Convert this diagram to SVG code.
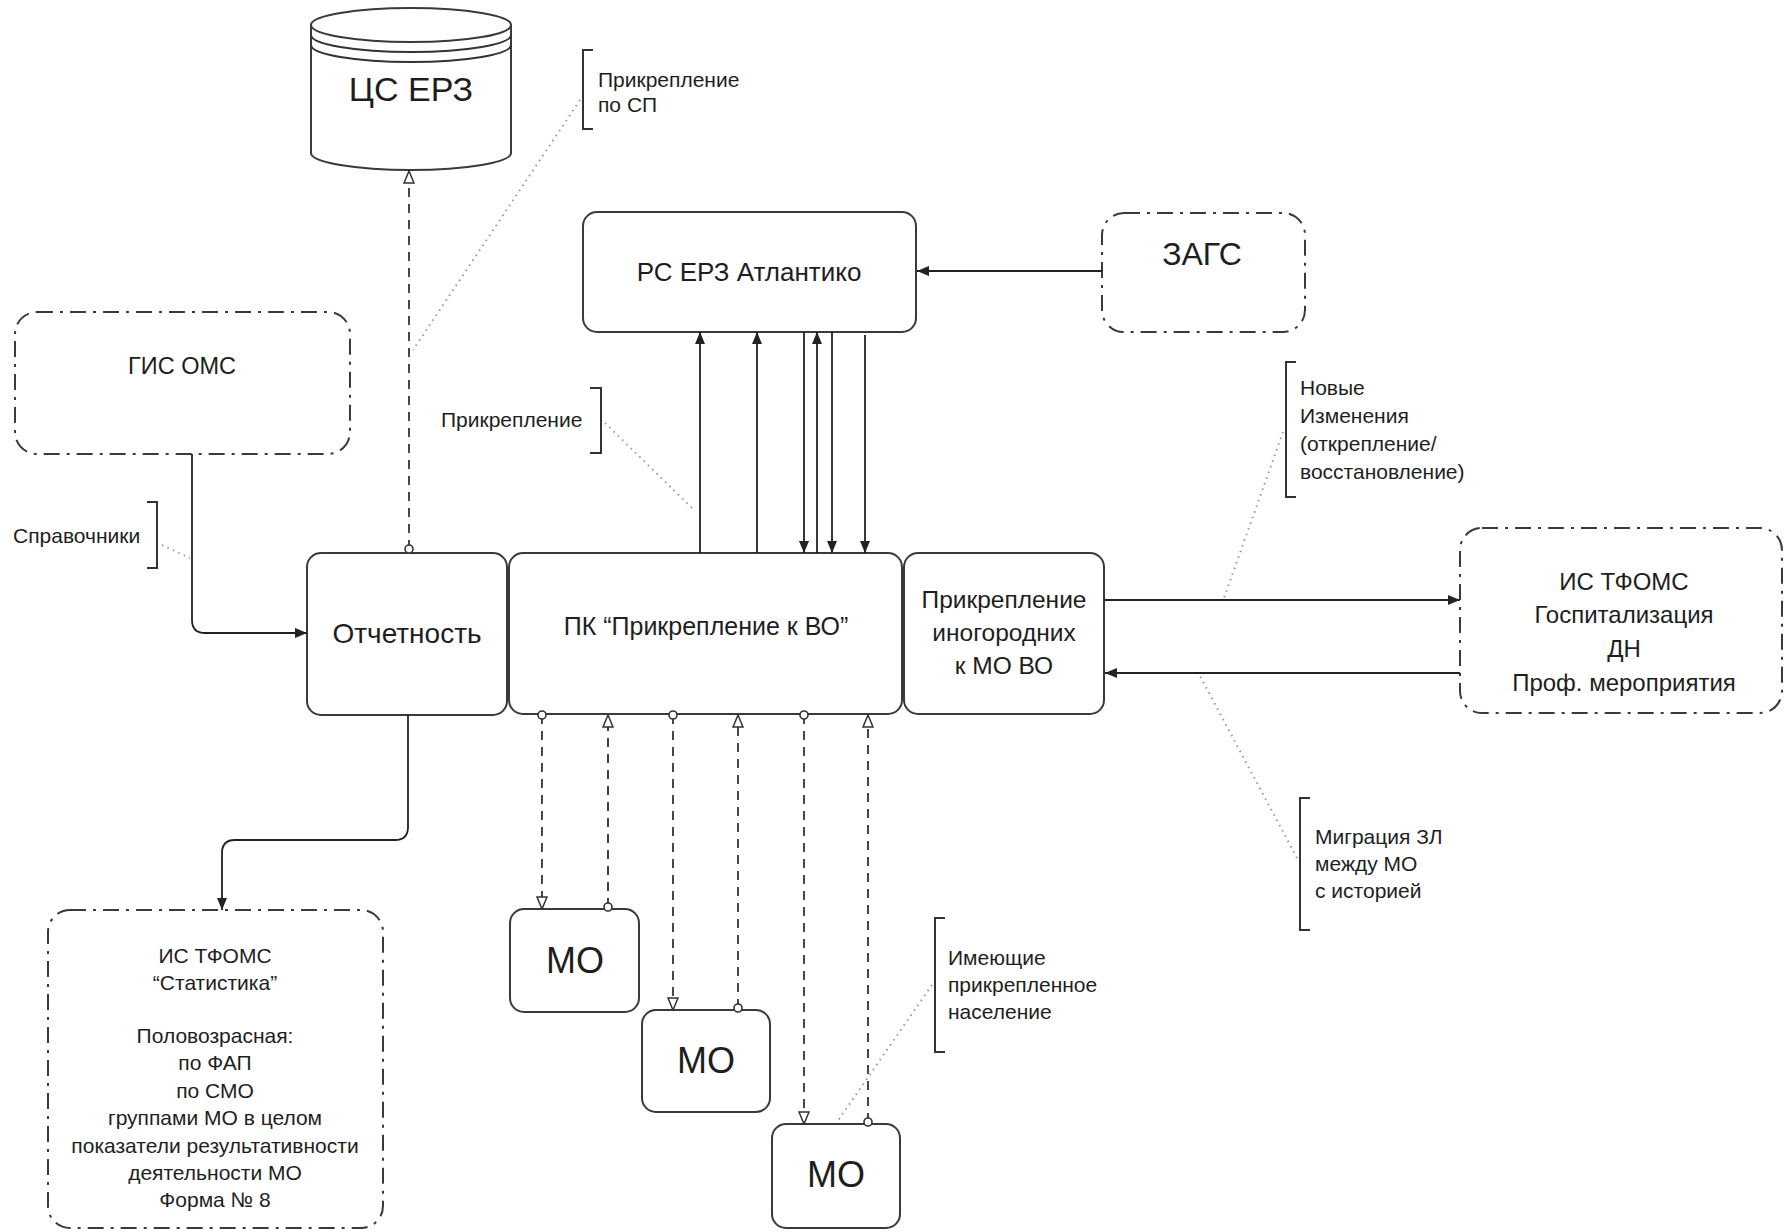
<svg xmlns="http://www.w3.org/2000/svg" width="1785" height="1232" viewBox="0 0 1785 1232">
<style>
text{font-family:"Liberation Sans",Arial,sans-serif;fill:#1e1e1e}
.c{text-anchor:middle}
.box{fill:#fff;stroke:#3a3a3a;stroke-width:2}
.ext{fill:#fff;stroke:#3a3a3a;stroke-width:2;stroke-dasharray:16 7 3 7}
.ln{fill:none;stroke:#222;stroke-width:1.8}
.dash{fill:none;stroke:#333;stroke-width:1.8;stroke-dasharray:9 7}
.dot{fill:none;stroke:#9a9a9a;stroke-width:2;stroke-dasharray:1.5 4.5}
.br{fill:none;stroke:#333;stroke-width:2}
.lbl{font-size:21px}
</style>
<defs>
<marker id="af" viewBox="0 0 12 10" refX="12" refY="5" markerWidth="12" markerHeight="10" markerUnits="userSpaceOnUse" orient="auto"><path d="M0,0 L12,5 L0,10 z" fill="#222"/></marker>
<marker id="th" viewBox="0 0 14 12" refX="13" refY="6" markerWidth="14" markerHeight="12" markerUnits="userSpaceOnUse" orient="auto"><path d="M1,1 L13,6 L1,11 z" fill="#fff" stroke="#333" stroke-width="1.5" stroke-dasharray="none"/></marker>
<marker id="ci" viewBox="0 0 12 12" refX="6" refY="6" markerWidth="12" markerHeight="12" markerUnits="userSpaceOnUse" orient="auto"><circle cx="6" cy="6" r="4" fill="#fff" stroke="#333" stroke-width="1.6" stroke-dasharray="none"/></marker>
</defs>
<rect width="1785" height="1232" fill="#fff"/>

<g id="leaders">
<path class="dot" d="M580,100 L413,350"/>
<path class="dot" d="M162,545 L190,558"/>
<path class="dot" d="M605,423 L694,510"/>
<path class="dot" d="M1283,432 L1224,598"/>
<path class="dot" d="M1297,858 L1200,676"/>
<path class="dot" d="M932,985 L837,1122"/>
</g>

<g id="cs-erz">
<path class="box" d="M311,25 V153 A100,17 0 0 0 511,153 V25"/>
<ellipse class="box" cx="411" cy="25" rx="100" ry="17"/>
<path class="br" d="M311,35 A100,17 0 0 0 511,35"/>
<path class="br" d="M311,45 A100,17 0 0 0 511,45"/>
<text class="c" x="411" y="101" font-size="34">ЦС ЕРЗ</text>
</g>

<g id="gis-oms">
<rect class="ext" x="15" y="312" width="335" height="142" rx="22"/>
<text class="c" x="182" y="374" font-size="23.5">ГИС ОМС</text>
</g>

<g id="otchetnost">
<rect class="box" x="307" y="553" width="200" height="162" rx="14"/>
<text class="c" x="407" y="643" font-size="28">Отчетность</text>
</g>

<g id="pk">
<rect class="box" x="509" y="553" width="393" height="161" rx="14"/>
<text class="c" x="706" y="635" font-size="25">ПК “Прикрепление к ВО”</text>
</g>

<g id="inogorodnie">
<rect class="box" x="904" y="553" width="200" height="161" rx="14"/>
<text class="c" x="1004" y="608" font-size="24.5">Прикрепление</text>
<text class="c" x="1004" y="641" font-size="24.5">иногородних</text>
<text class="c" x="1004" y="674" font-size="24.5">к МО ВО</text>
</g>

<g id="rs-erz">
<rect class="box" x="583" y="212" width="333" height="120" rx="14"/>
<text class="c" x="749" y="281" font-size="26">РС ЕРЗ Атлантико</text>
</g>

<g id="zags">
<rect class="ext" x="1102" y="213" width="203" height="119" rx="22"/>
<text class="c" x="1202" y="265" font-size="32">ЗАГС</text>
</g>

<g id="is-tfoms-gosp">
<rect class="ext" x="1460" y="528" width="322" height="185" rx="22"/>
<text class="c" x="1624" y="590" font-size="24">ИС ТФОМС</text>
<text class="c" x="1624" y="623" font-size="24">Госпитализация</text>
<text class="c" x="1624" y="657" font-size="24">ДН</text>
<text class="c" x="1624" y="691" font-size="24">Проф. мероприятия</text>
</g>

<g id="is-tfoms-stat">
<rect class="ext" x="48" y="910" width="335" height="318" rx="22"/>
<text class="c lbl" x="215" y="963">ИС ТФОМС</text>
<text class="c lbl" x="215" y="990">“Статистика”</text>
<text class="c lbl" x="215" y="1043">Половозрасная:</text>
<text class="c lbl" x="215" y="1070">по ФАП</text>
<text class="c lbl" x="215" y="1098">по СМО</text>
<text class="c lbl" x="215" y="1125">группами МО в целом</text>
<text class="c lbl" x="215" y="1153">показатели результативности</text>
<text class="c lbl" x="215" y="1180">деятельности МО</text>
<text class="c lbl" x="215" y="1207">Форма № 8</text>
</g>

<g id="mo1">
<rect class="box" x="510" y="909" width="129" height="103" rx="14"/>
<text class="c" x="575" y="973" font-size="36">МО</text>
</g>
<g id="mo2">
<rect class="box" x="642" y="1010" width="128" height="102" rx="14"/>
<text class="c" x="706" y="1073" font-size="36">МО</text>
</g>
<g id="mo3">
<rect class="box" x="772" y="1124" width="128" height="104" rx="14"/>
<text class="c" x="836" y="1187" font-size="36">МО</text>
</g>

<g id="label-sp">
<path class="br" d="M593,50 H583 V129 H593"/>
<text class="lbl" x="598" y="87">Прикрепление</text>
<text class="lbl" x="598" y="112">по СП</text>
</g>
<g id="label-spravochniki">
<path class="br" d="M147,502 H157 V568 H147"/>
<text class="lbl" x="13" y="543">Справочники</text>
</g>
<g id="label-prikreplenie">
<path class="br" d="M590,388 H601 V453 H590"/>
<text class="lbl" x="441" y="427">Прикрепление</text>
</g>
<g id="label-novye">
<path class="br" d="M1296,362 H1286 V497 H1296"/>
<text class="lbl" x="1300" y="395">Новые</text>
<text class="lbl" x="1300" y="423">Изменения</text>
<text class="lbl" x="1300" y="451">(открепление/</text>
<text class="lbl" x="1300" y="479">восстановление)</text>
</g>
<g id="label-migraciya">
<path class="br" d="M1310,798 H1300 V930 H1310"/>
<text class="lbl" x="1315" y="844">Миграция ЗЛ</text>
<text class="lbl" x="1315" y="871">между МО</text>
<text class="lbl" x="1315" y="898">с историей</text>
</g>
<g id="label-imeyushchie">
<path class="br" d="M945,918 H935 V1052 H945"/>
<text class="lbl" x="948" y="965">Имеющие</text>
<text class="lbl" x="948" y="992">прикрепленное</text>
<text class="lbl" x="948" y="1019">население</text>
</g>

<g id="connectors">
<path class="dash" d="M409,549 V171" marker-start="url(#ci)" marker-end="url(#th)"/>
<path class="ln" d="M192,454 V620 Q192,633 205,633 H307" marker-end="url(#af)"/>
<path class="ln" d="M408,715 V827 Q408,840 395,840 H235 Q222,840 222,853 V910" marker-end="url(#af)"/>
<path class="ln" d="M1102,271 H917" marker-end="url(#af)"/>
<path class="ln" d="M700,553 V332" marker-end="url(#af)"/>
<path class="ln" d="M757,553 V332" marker-end="url(#af)"/>
<path class="ln" d="M804,332 V553" marker-end="url(#af)"/>
<path class="ln" d="M817,553 V332" marker-end="url(#af)"/>
<path class="ln" d="M832,332 V553" marker-end="url(#af)"/>
<path class="ln" d="M865,335 V553" marker-end="url(#af)"/>
<path class="ln" d="M1104,600 H1460" marker-end="url(#af)"/>
<path class="ln" d="M1460,673 H1105" marker-end="url(#af)"/>
<path class="dash" d="M542,715 V909" marker-start="url(#ci)" marker-end="url(#th)"/>
<path class="dash" d="M608,907 V715" marker-start="url(#ci)" marker-end="url(#th)"/>
<path class="dash" d="M673,715 V1010" marker-start="url(#ci)" marker-end="url(#th)"/>
<path class="dash" d="M738,1008 V715" marker-start="url(#ci)" marker-end="url(#th)"/>
<path class="dash" d="M804,715 V1124" marker-start="url(#ci)" marker-end="url(#th)"/>
<path class="dash" d="M868,1122 V715" marker-start="url(#ci)" marker-end="url(#th)"/>
</g>
</svg>
